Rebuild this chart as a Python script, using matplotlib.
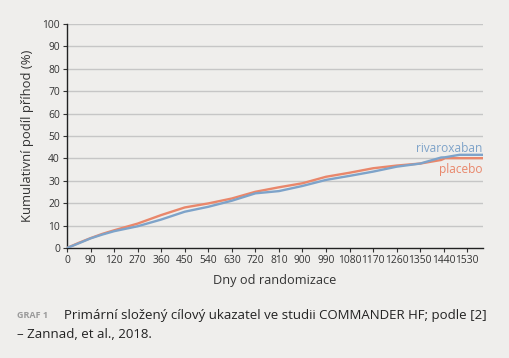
import matplotlib.pyplot as plt

# days of follow-up
days = [0, 45, 90, 135, 180, 270, 360, 450, 540, 630, 720, 810, 900, 990,
        1080, 1170, 1260, 1350, 1430, 1445, 1500, 1590]
placebo = [0, 2.3, 4.4, 6.3, 7.9, 10.9, 14.7, 18.1, 19.9, 22.1, 25.1, 27.1,
           28.9, 31.8, 33.6, 35.6, 36.8, 37.7, 39.3, 40.1, 40.1, 40.1]
rivaroxaban = [0, 2.1, 4.3, 6.0, 7.5, 9.7, 12.7, 16.2, 18.4, 21.1, 24.4, 25.4,
               27.7, 30.4, 32.2, 34.1, 36.3, 37.7, 40.4, 40.5, 41.6, 41.6]

xticks = list(range(0, 1531, 90))
xlabels = ['0', '90', '120', '270', '360', '450', '540', '630', '720', '810',
           '900', '990', '1080', '1170', '1260', '1350', '1440', '1530']
yticks = list(range(0, 101, 10))

bg = '#efeeec'
c_plac = '#e9876b'
c_riva = '#7ea3c9'

plt.rcParams['font.family'] = ['Open Sans', 'DejaVu Sans']

fig = plt.figure(figsize=(5.09, 3.58), dpi=100, facecolor=bg)
ax = fig.add_axes([67 / 509, 1 - 248 / 358, (483 - 67) / 509, (248 - 24) / 358])
ax.set_facecolor(bg)

for y in yticks[1:]:
    ax.axhline(y, color='#c6c6c6', lw=1.0, zorder=0)

ax.plot(days, placebo, color=c_plac, lw=1.7, zorder=3)
ax.plot(days, rivaroxaban, color=c_riva, lw=1.7, zorder=4)

ax.set_xlim(0, 1590)
ax.set_ylim(0, 100)
ax.set_xticks(xticks)
ax.set_xticklabels(xlabels)
ax.set_yticks(yticks)
ax.tick_params(direction='out', length=3, width=0.8, labelsize=7.4,
               colors='#333333', pad=2)
for s in ['top', 'right']:
    ax.spines[s].set_visible(False)
for s in ['left', 'bottom']:
    ax.spines[s].set_linewidth(1.0)
    ax.spines[s].set_color('#222222')

ax.set_xlabel('Dny od randomizace', fontsize=9.2, color='#333333', labelpad=6)
ax.set_ylabel('Kumulativní podíl příhod (%)', fontsize=9.4, color='#333333',
              labelpad=6)

ax.text(1588, 44.6, 'rivaroxaban', color=c_riva, fontsize=8.6,
        ha='right', va='center')
ax.text(1588, 35.0, 'placebo', color=c_plac, fontsize=8.6,
        ha='right', va='center')

fig.text(17 / 509, 1 - 316 / 358, 'GRAF 1', fontsize=6.5, color='#9a9a9a',
         fontweight='bold', va='center')
fig.text(64 / 509, 1 - 316 / 358,
         'Primární složený cílový ukazatel ve studii COMMANDER HF; podle [2]',
         fontsize=9.5, color='#222222', va='center')
fig.text(17 / 509, 1 - 335 / 358, '– Zannad, et al., 2018.',
         fontsize=9.5, color='#222222', va='center')

fig.savefig('out.png', dpi=100, facecolor=bg)
